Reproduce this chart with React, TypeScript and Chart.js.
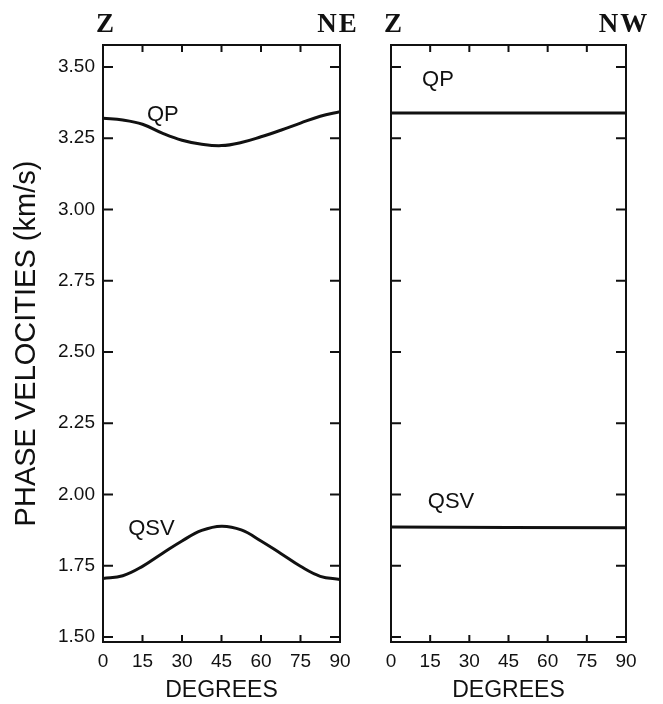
import React, { useEffect, useRef } from 'react';
import { Chart, registerables } from 'chart.js';

Chart.register(...registerables);

// ---- data ----
const degreesNE = [0, 7.5, 15, 22.5, 30, 37.5, 45, 52.5, 60, 67.5, 75, 82.5, 90];
const qpNE = [3.320, 3.314, 3.299, 3.268, 3.243, 3.229, 3.224, 3.235, 3.255, 3.278, 3.303, 3.327, 3.343];
const qsvNE = [1.705, 1.715, 1.748, 1.793, 1.837, 1.874, 1.889, 1.876, 1.837, 1.793, 1.748, 1.713, 1.702];
const degreesNW = [0, 90];
const qpNW = [3.338, 3.338];
const qsvNW = [1.886, 1.883];
const xTickValues = [0, 15, 30, 45, 60, 75, 90];
const yTickValues = [1.5, 1.75, 2.0, 2.25, 2.5, 2.75, 3.0, 3.25, 3.5];
const yMin = 1.4825;
const yMax = 3.577;

const labelsNE = [
  { text: 'QP', x: 22.7, y: 3.311 },
  { text: 'QSV', x: 18.4, y: 1.858 },
];
const labelsNW = [
  { text: 'QP', x: 18, y: 3.433 },
  { text: 'QSV', x: 23, y: 1.954 },
];

const INK = '#111';
const SANS = '"Liberation Sans", Arial, Helvetica, sans-serif';
const SERIF = '"Liberation Serif", "Times New Roman", serif';

function makeFramePlugin(labels: { text: string; x: number; y: number }[], leftHead: string, rightHead: string) {
  return {
    id: 'frame',
    afterDatasetsDraw(chart: any) {
      const { ctx, chartArea: a, scales } = chart;
      const xs = scales.x;
      const ys = scales.y;
      ctx.save();
      ctx.strokeStyle = INK;
      ctx.lineWidth = 2;
      ctx.strokeRect(a.left, a.top, a.right - a.left, a.bottom - a.top);
      ctx.beginPath();
      for (const v of xTickValues) {
        const px = xs.getPixelForValue(v);
        ctx.moveTo(px, a.bottom);
        ctx.lineTo(px, a.bottom - 7);
        ctx.moveTo(px, a.top);
        ctx.lineTo(px, a.top + 7);
      }
      for (const v of yTickValues) {
        const py = ys.getPixelForValue(v);
        ctx.moveTo(a.left, py);
        ctx.lineTo(a.left + 10, py);
        ctx.moveTo(a.right, py);
        ctx.lineTo(a.right - 10, py);
      }
      ctx.stroke();

      ctx.fillStyle = INK;
      ctx.font = `22px ${SANS}`;
      ctx.textAlign = 'center';
      ctx.textBaseline = 'alphabetic';
      for (const l of labels) {
        ctx.fillText(l.text, xs.getPixelForValue(l.x), ys.getPixelForValue(l.y));
      }

      ctx.font = `bold 27px ${SERIF}`;
      ctx.fillText(leftHead, a.left + 2, 32);
      try { (ctx as any).letterSpacing = '2px'; } catch (e) {}
      ctx.fillText(rightHead, a.right - 2, 32);
      try { (ctx as any).letterSpacing = '0px'; } catch (e) {}
      ctx.restore();
    },
  };
}

function lineDataset(xs: number[], ys: number[]) {
  return {
    data: xs.map((x, i) => ({ x, y: ys[i] })),
    borderColor: INK,
    borderWidth: 3,
    pointRadius: 0,
    fill: false,
    tension: 0.4,
  };
}

function makeConfig(opts: {
  datasets: any[];
  labels: { text: string; x: number; y: number }[];
  leftHead: string;
  rightHead: string;
  yWidth: number;
  padRight: number;
  showY: boolean;
}) {
  return {
    type: 'line' as const,
    data: { datasets: opts.datasets },
    options: {
      animation: false as const,
      responsive: false,
      events: [],
      layout: { padding: { top: 45, right: opts.padRight, left: 0, bottom: 0 } },
      plugins: { legend: { display: false }, tooltip: { enabled: false } },
      scales: {
        x: {
          type: 'linear' as const,
          position: 'bottom' as const,
          min: 0,
          max: 90,
          afterBuildTicks: (s: any) => { s.ticks = xTickValues.map((v) => ({ value: v })); },
          afterFit: (s: any) => { s.height = 62; },
          grid: { display: false, drawTicks: false },
          border: { display: false },
          ticks: {
            color: INK,
            font: { family: SANS, size: 19 },
            padding: 8,
            maxRotation: 0,
            autoSkip: false,
            callback: (v: any) => String(v),
          },
          title: {
            display: true,
            text: 'DEGREES',
            color: INK,
            font: { family: SANS, size: 23 },
            padding: { top: 0, bottom: 0 },
          },
        },
        y: {
          type: 'linear' as const,
          position: 'left' as const,
          min: yMin,
          max: yMax,
          afterBuildTicks: (s: any) => { s.ticks = yTickValues.map((v) => ({ value: v })); },
          afterFit: (s: any) => { s.width = opts.yWidth; },
          grid: { display: false, drawTicks: false },
          border: { display: false },
          ticks: {
            display: opts.showY,
            color: INK,
            font: { family: SANS, size: 19 },
            padding: 8,
            autoSkip: false,
            callback: (v: any) => Number(v).toFixed(2),
          },
          title: {
            display: opts.showY,
            text: 'PHASE VELOCITIES (km/s)',
            color: INK,
            font: { family: SANS, size: 29 },
            padding: { top: 10, bottom: 0 },
          },
        },
      },
    },
    plugins: [makeFramePlugin(opts.labels, opts.leftHead, opts.rightHead)],
  };
}

export default function App() {
  const leftRef = useRef<HTMLCanvasElement>(null);
  const rightRef = useRef<HTMLCanvasElement>(null);

  useEffect(() => {
    const c1 = new Chart(leftRef.current as HTMLCanvasElement, makeConfig({
      datasets: [lineDataset(degreesNE, qpNE), lineDataset(degreesNE, qsvNE)],
      labels: labelsNE,
      leftHead: 'Z',
      rightHead: 'NE',
      yWidth: 103,
      padRight: 20,
      showY: true,
    }) as any);
    const c2 = new Chart(rightRef.current as HTMLCanvasElement, makeConfig({
      datasets: [lineDataset(degreesNW, qpNW), lineDataset(degreesNW, qsvNW)],
      labels: labelsNW,
      leftHead: 'Z',
      rightHead: 'NW',
      yWidth: 31,
      padRight: 37,
      showY: false,
    }) as any);
    return () => {
      c1.destroy();
      c2.destroy();
    };
  }, []);

  return (
    <div style={{ position: 'absolute', left: 0, top: 0, width: 663, height: 704, background: '#fff' }}>
      <canvas ref={leftRef} width={360} height={704} style={{ position: 'absolute', left: 0, top: 0, width: 360, height: 704 }} />
      <canvas ref={rightRef} width={303} height={704} style={{ position: 'absolute', left: 360, top: 0, width: 303, height: 704 }} />
    </div>
  );
}
